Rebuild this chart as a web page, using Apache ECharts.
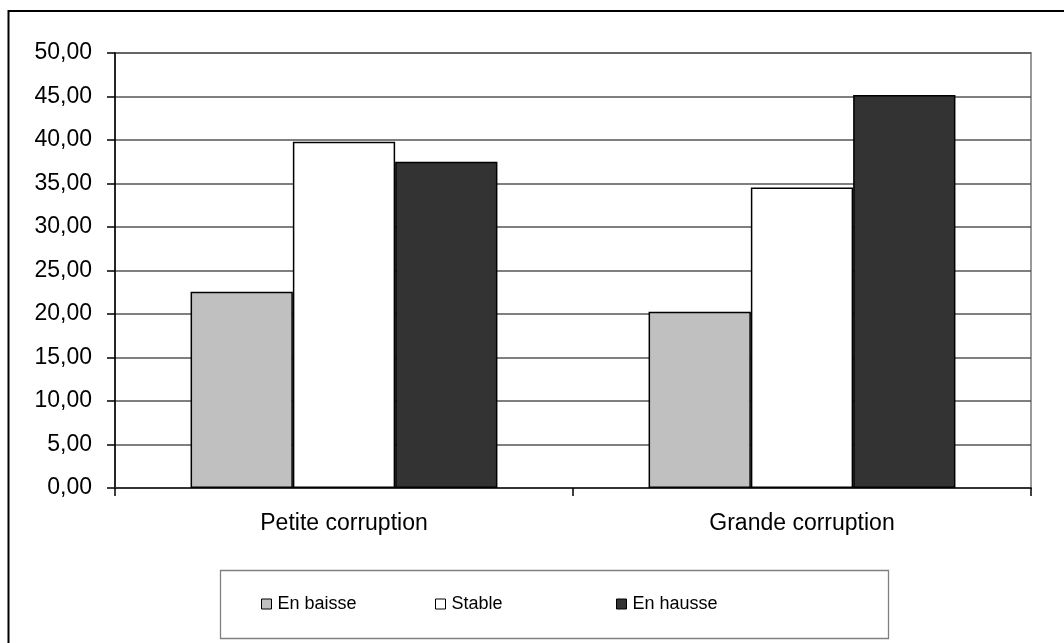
<!DOCTYPE html>
<html>
<head>
<meta charset="utf-8">
<script src="https://cdn.jsdelivr.net/npm/echarts@6/dist/echarts.min.js"></script>
<style>
html,body{margin:0;padding:0;background:#fff;}
#chart{width:1064px;height:643px;}
</style>
</head>
<body>
<div id="chart"></div>
<script>
var categories = ['Petite corruption', 'Grande corruption'];
var seriesNames = ['En baisse', 'Stable', 'En hausse'];
var enBaisse = [22.56, 20.26];
var stable = [39.79, 34.53];
var enHausse = [37.49, 45.17];
var yTicks = { min: 0, max: 50, interval: 5 };

var colors = ['#c0c0c0', '#ffffff', '#333333'];
var values = [enBaisse, stable, enHausse];

var chart = echarts.init(document.getElementById('chart'), null, { renderer: 'canvas' });

var series = seriesNames.map(function (n, i) {
  return {
    name: n,
    type: 'bar',
    data: values[i],
    barGap: '0%',
    barCategoryGap: '33%',
    itemStyle: { color: colors[i], borderColor: '#000', borderWidth: 1.5 },
    emphasis: { disabled: true }
  };
});

var legendLefts = [261, 435, 616];
var legends = seriesNames.map(function (n, i) {
  return {
    data: [n],
    left: legendLefts[i],
    top: 595,
    padding: 0,
    icon: 'rect',
    itemWidth: 10,
    itemHeight: 10,
    itemGap: 0,
    textStyle: { fontFamily: 'Liberation Sans, Arial', fontSize: 18, color: '#000', padding: [0, 0, 0, 1] },
    itemStyle: { borderColor: '#000', borderWidth: 1 },
    selectedMode: false
  };
});

chart.setOption({
  animation: false,
  backgroundColor: '#fff',
  grid: {
    left: 115, top: 53, width: 916, height: 435,
    show: true, borderColor: '#999', borderWidth: 2, backgroundColor: '#fff'
  },
  graphic: [
    { type: 'rect', shape: { x: 8.5, y: 11, width: 1100, height: 700 }, style: { fill: 'none', stroke: '#000', lineWidth: 2 }, silent: true, z: 100 },
    { type: 'rect', shape: { x: 220.5, y: 570.5, width: 668, height: 68 }, style: { fill: 'none', stroke: '#808080', lineWidth: 1.3 }, silent: true, z: 100 }
  ],
  legend: legends,
  xAxis: {
    type: 'category',
    data: categories,
    axisLine: { show: true, lineStyle: { color: '#333', width: 2 } },
    axisTick: { show: true, length: 8, lineStyle: { color: '#000', width: 1.5 } },
    axisLabel: { margin: 24, fontFamily: 'Liberation Sans, Arial', fontSize: 23, color: '#000' },
    splitLine: { show: false }
  },
  yAxis: {
    type: 'value',
    min: yTicks.min, max: yTicks.max, interval: yTicks.interval,
    axisLine: { show: true, lineStyle: { color: '#000', width: 1.5 } },
    axisTick: { show: true, length: 8, lineStyle: { color: '#000', width: 1.5 } },
    axisLabel: {
      margin: 23, fontFamily: 'Liberation Sans, Arial', fontSize: 23, color: '#000',
      formatter: function (v) { return v.toFixed(2).replace('.', ','); }
    },
    splitLine: { show: true, lineStyle: { color: '#555', width: 1.5 } }
  },
  series: series
});
</script>
</body>
</html>
